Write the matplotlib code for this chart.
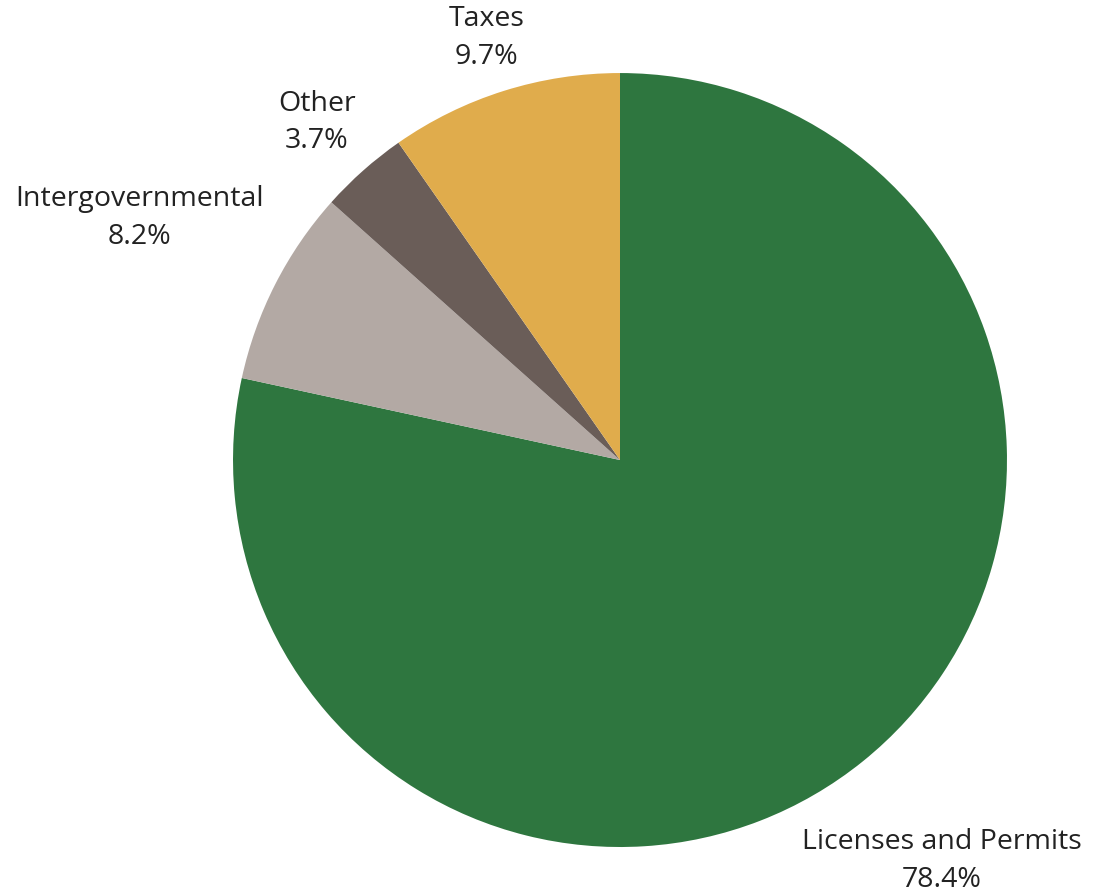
import matplotlib
matplotlib.use("Agg")
import matplotlib.pyplot as plt

categories = ["Licenses and Permits", "Intergovernmental", "Other", "Taxes"]
values = [78.4, 8.2, 3.7, 9.7]
colors = ["#2E763F", "#B3A9A4", "#6A5D58", "#E0AC4C"]
# label positions (data coords, pie radius = 1)
label_pos = [(0.832, -1.036), (-1.242, 0.626), (-0.783, 0.872), (-0.344, 1.090)]

plt.rcParams['font.family'] = ['Open Sans', 'DejaVu Sans']

fig = plt.figure(figsize=(10.99, 8.93), dpi=100)
ax = fig.add_axes([0.2120, 0.0515, 0.7043, 0.8667])
ax.pie(values, colors=colors, startangle=90, counterclock=False, radius=1.0,
       wedgeprops=dict(linewidth=0))
ax.set_xlim(-1, 1)
ax.set_ylim(-1, 1)
ax.set_aspect('equal')
ax.axis('off')

for cat, v, (x, y) in zip(categories, values, label_pos):
    ax.text(x, y, f"{cat}\n{v:.1f}%", ha='center', va='center', multialignment='center',
            fontsize=20.5, color='#222222', linespacing=1.46, clip_on=False)

fig.savefig("out.png", dpi=100)
